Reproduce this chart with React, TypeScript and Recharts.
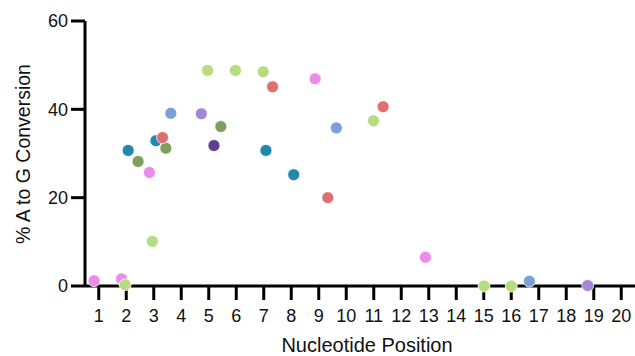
import React from 'react';
import { Scatter, ScatterChart, XAxis, YAxis } from 'recharts';

// x = nucleotide position (dots are jittered around the integer positions), y = % A to G
const pinkX = [0.83, 1.83, 2.84, 8.87, 12.88];
const pinkY = [1.2, 1.6, 25.7, 46.9, 6.5];
const limeX = [1.96, 2.95, 4.96, 5.97, 6.98, 10.99, 15.01, 16.0];
const limeY = [0.3, 10.1, 48.8, 48.8, 48.5, 37.4, 0, 0];
const tealX = [2.07, 3.08, 7.08, 8.09];
const tealY = [30.7, 32.9, 30.7, 25.2];
const oliveX = [2.43, 3.44, 5.44];
const oliveY = [28.2, 31.2, 36.1];
const redX = [3.32, 7.32, 9.33, 11.34];
const redY = [33.6, 45.1, 20.0, 40.6];
const blueX = [3.62, 9.64, 16.66];
const blueY = [39.1, 35.8, 1.1];
const lilacX = [4.73, 18.78];
const lilacY = [39.0, 0.1];
const violetX = [5.19];
const violetY = [31.8];

const xTicks = [1, 2, 3, 4, 5, 6, 7, 8, 9, 10, 11, 12, 13, 14, 15, 16, 17, 18, 19, 20];
const yTicks = [0, 20, 40, 60];

const toPoints = (xs: number[], ys: number[]) => xs.map((x, i) => ({ x, y: ys[i] }));

const groups = [
  { key: 'pink', color: '#ea8ce9', data: toPoints(pinkX, pinkY) },
  { key: 'lime', color: '#b6dc80', data: toPoints(limeX, limeY) },
  { key: 'teal', color: '#2387ab', data: toPoints(tealX, tealY) },
  { key: 'olive', color: '#7f9f5f', data: toPoints(oliveX, oliveY) },
  { key: 'red', color: '#e06f70', data: toPoints(redX, redY) },
  { key: 'blue', color: '#7ba0d8', data: toPoints(blueX, blueY) },
  { key: 'lilac', color: '#a487d8', data: toPoints(lilacX, lilacY) },
  { key: 'violet', color: '#5c3f95', data: toPoints(violetX, violetY) },
];

const FONT = '"Liberation Sans", Arial, sans-serif';

const Dot = (props: any) => {
  const { cx, cy, fill } = props;
  if (cx == null || cy == null) return null;
  return <circle cx={cx} cy={cy} r={6} fill={fill} stroke="#ffffff" strokeWidth={0.75} />;
};

export default function App() {
  return (
    <div style={{ position: 'absolute', left: 0, top: 0, fontFamily: FONT }}>
      <ScatterChart width={635} height={356} margin={{ top: 21, right: 0, bottom: 0, left: 0 }}>
        <XAxis
          type="number"
          dataKey="x"
          domain={[0.5, 20.5]}
          ticks={xTicks}
          interval={0}
          height={70}
          tickSize={14}
          tickMargin={9}
          axisLine={{ stroke: '#000', strokeWidth: 3 }}
          tickLine={{ stroke: '#000', strokeWidth: 3 }}
          tick={{ fill: '#111', fontSize: 18, fontFamily: FONT }}
          label={{
            content: () => (
              <text x={367} y={352} textAnchor="middle" fontSize={20} fill="#111" fontFamily={FONT}>
                Nucleotide Position
              </text>
            ),
          }}
        />
        <YAxis
          type="number"
          dataKey="y"
          domain={[0, 60]}
          ticks={yTicks}
          width={85}
          tickSize={14}
          tickMargin={3}
          axisLine={{ stroke: '#000', strokeWidth: 3 }}
          tickLine={{ stroke: '#000', strokeWidth: 3 }}
          tick={{ fill: '#111', fontSize: 18, fontFamily: FONT }}
          label={{
            content: () => (
              <text
                x={30}
                y={154}
                transform="rotate(-90 30 154)"
                textAnchor="middle"
                fontSize={19.5}
                fill="#111"
                fontFamily={FONT}
              >
                % A to G Conversion
              </text>
            ),
          }}
        />
        {groups.map((g) => (
          <Scatter
            key={g.key}
            name={g.key}
            data={g.data}
            fill={g.color}
            shape={<Dot />}
            isAnimationActive={false}
          />
        ))}
      </ScatterChart>
    </div>
  );
}
